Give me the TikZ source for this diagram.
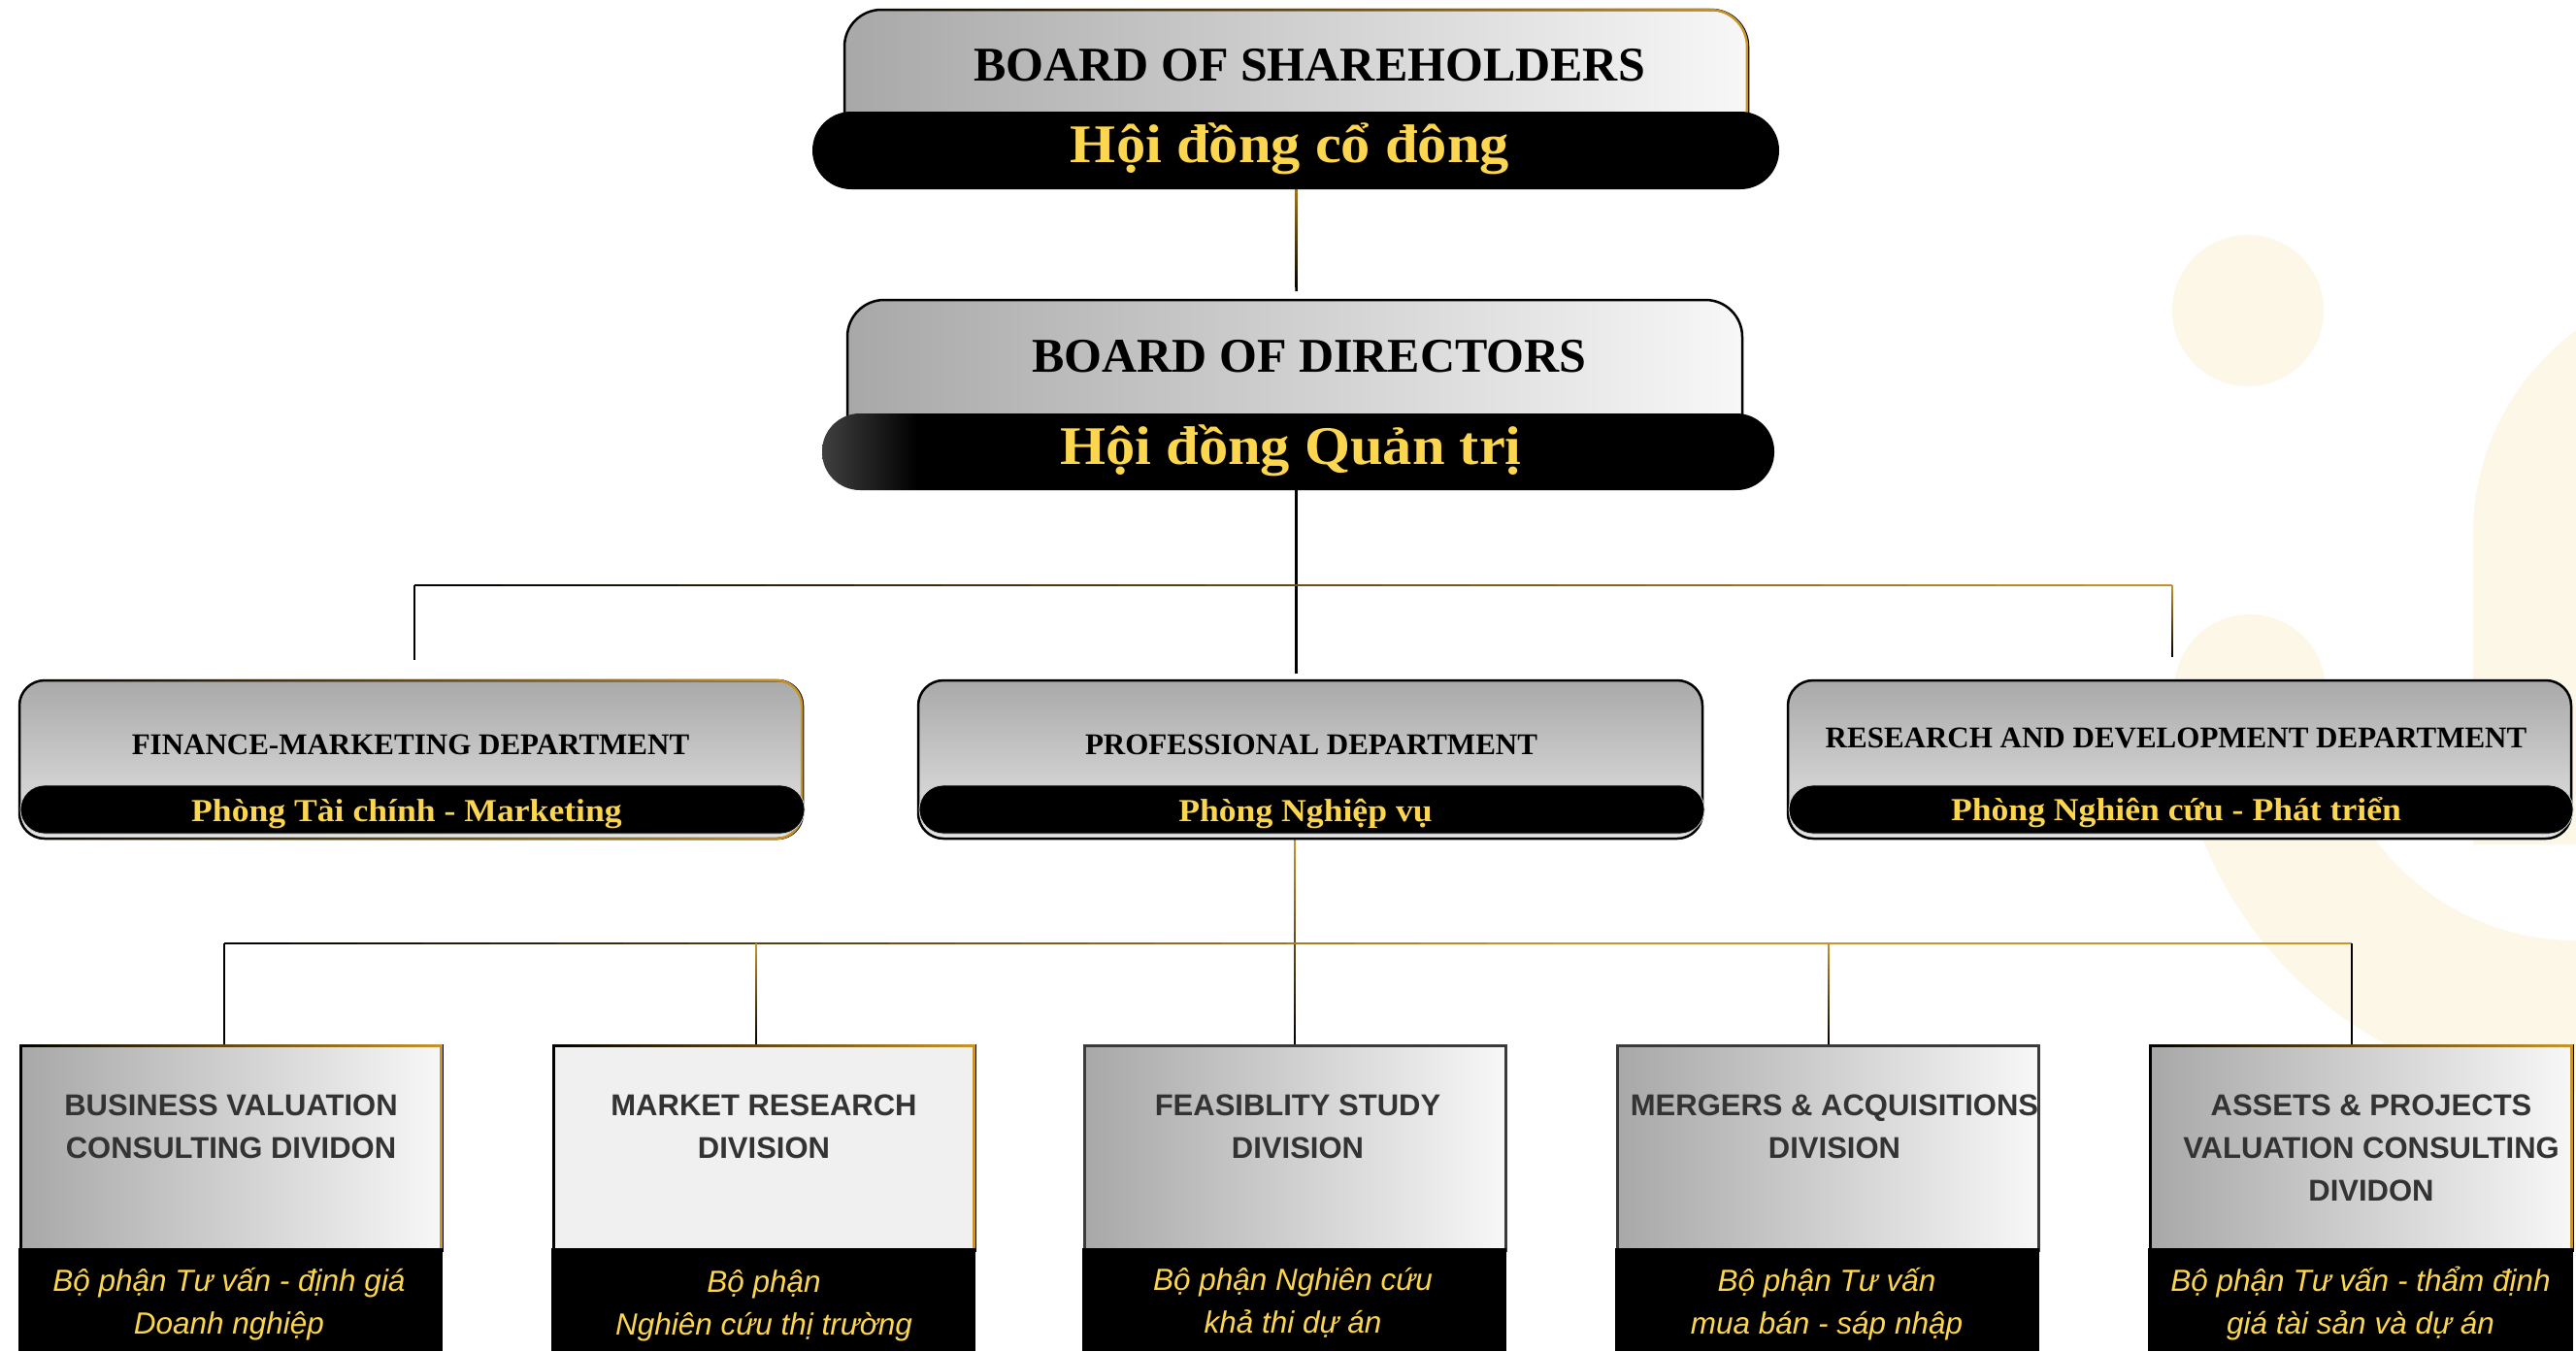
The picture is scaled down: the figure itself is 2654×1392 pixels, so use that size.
\documentclass[tikz,border=0pt]{standalone}
\usepackage{fontspec}
\setmainfont{Liberation Serif}
\newfontfamily\vnserif{Liberation Serif}[FakeStretch=1.08]
\newfontfamily\dsans{Liberation Sans}
\usetikzlibrary{calc,fadings}
\definecolor{goldc}{RGB}{201,150,43}
\definecolor{ylw}{HTML}{FDD64F}
\definecolor{dtext}{HTML}{333333}
\definecolor{gA}{HTML}{A8A8A8}
\definecolor{gB}{HTML}{A9A9A9}
\definecolor{gC}{HTML}{E6E6E6}
\definecolor{cream}{HTML}{FCF7E6}
\definecolor{bxline}{HTML}{3A3A3A}
\tikzfading[name=fadeR, left color=transparent!100, right color=transparent!0]
\pgfdeclarehorizontalshading{pillL}{100bp}{color(0bp)=(black!75); color(25bp)=(black!75); color(30bp)=(black); color(100bp)=(black)}
\newcommand\connline[4]{%
  \foreach \k in {0,...,19}{%
    \pgfmathsetmacro\ta{\k/20}%
    \pgfmathsetmacro\tb{min(1,(\k+1.2)/20)}%
    \pgfmathtruncatemacro\pc{round(100*(\k+0.5)/20)}%
    \draw[conn, color=#4!\pc!#3] ($(#1)!\ta!(#2)$) -- ($(#1)!\tb!(#2)$);
  }}
\tikzset{
  conn/.style={line width=2.5pt, line cap=butt},
  frame/.style={inner sep=0pt, outer sep=0pt, draw=none},
  ttl/.style={font=\bfseries\fontsize{50}{60}\selectfont, text=black, inner sep=0pt, anchor=base},
  ttlvn/.style={font=\vnserif\bfseries\fontsize{56}{66}\selectfont, text=ylw, inner sep=0pt, anchor=base},
  dept/.style={font=\bfseries\fontsize{31}{40}\selectfont, text=black, inner sep=0pt, anchor=base},
  deptvn/.style={font=\vnserif\bfseries\fontsize{33}{40}\selectfont, text=ylw, inner sep=0pt, anchor=base},
  divt/.style={font=\dsans\bfseries\fontsize{31}{44}\selectfont, text=dtext, align=center, inner sep=0pt, anchor=base},
  divs/.style={font=\dsans\itshape\fontsize{31.5}{44}\selectfont, text=ylw, align=center, inner sep=0pt, anchor=base},
}
\begin{document}
\begin{tikzpicture}[x=1pt,y=-1pt]
\useasboundingbox (0,0) rectangle (2654,1392);
\clip (0,0) rectangle (2654,1392);
% background
\fill[white] (0,0) rectangle (2654,1392);
\shade[left color=white, middle color=black!3, right color=white] (100,0) rectangle (460,1392);
\fill[cream] (2316,320) circle[radius=78];
\draw[cream, line width=156pt, line cap=round] (2318,711) arc[start angle=180, end angle=90, radius=336];
\fill[cream] (2548,870) -- (2548,550) arc[start angle=180, end angle=270, radius=260] -- (2700,290) -- (2700,870) -- cycle;

% frames (named nodes)
\node[frame, minimum width=995pt, minimum height=185pt] (sh) at (1335.5,102.5) {};
\node[frame, minimum width=985pt, minimum height=196pt] (bd) at (1335.5,407) {};
\node[frame, minimum width=807pt, minimum height=163pt] (fin) at (423.5,782.5) {};
\node[frame, minimum width=808pt, minimum height=163pt] (prof) at (1350,782.5) {};
\node[frame, minimum width=807pt, minimum height=163pt] (rd) at (2245.5,782.5) {};
\node[frame, minimum width=434pt, minimum height=315pt] (d1) at (238,1234.5) {};
\node[frame, minimum width=434pt, minimum height=315pt] (d2) at (787,1234.5) {};
\node[frame, minimum width=434pt, minimum height=315pt] (d3) at (1334,1234.5) {};
\node[frame, minimum width=434pt, minimum height=315pt] (d4) at (1883,1234.5) {};
\node[frame, minimum width=434pt, minimum height=315pt] (d5) at (2432.5,1234.5) {};

% connectors
\coordinate (c1) at ($(bd.north)+(0,-9)$);
\connline{sh.south}{c1}{goldc!80!black}{black}
\coordinate (c2) at ($(prof.north -| bd.south)+(0,-7)$);
\draw[conn, black] (bd.south) -- (c2);
\coordinate (bL) at (427,603);
\coordinate (bR) at (2238,603);
\connline{bL}{bR}{black}{goldc}
\coordinate (c3) at ($(bL |- fin.north)+(0,-21)$);
\draw[conn, black] (bL) -- (c3);
\coordinate (c4) at ($(bR |- rd.north)+(0,-24)$);
\connline{bR}{c4}{goldc}{black}
\coordinate (c5) at (prof.south -| d3.north);
\connline{c5}{d3.north}{goldc}{black}
\coordinate (lL) at (231,972);
\coordinate (lQ) at (1600,972);
\coordinate (lR) at (2423,972);
\connline{lL}{lQ}{black}{goldc}
\draw[conn, goldc] (lQ) -- (lR);
\draw[conn, black] (lL) -- (lL |- d1.north);
\coordinate (l2) at (779,972);
\coordinate (l4) at (1884,972);
\connline{l2}{l2 |- d2.north}{goldc}{black}
\connline{l4}{l4 |- d4.north}{goldc}{black}
\draw[conn, black] (lR) -- (lR |- d5.north);

% board of shareholders
\shade[left color=gA, right color=white!97!black] (870,130) -- (870,48) arc[start angle=180,end angle=270,radius=38] -- (1763,10) arc[start angle=270,end angle=360,radius=38] -- (1801,130) -- cycle;
\draw[black, line width=2.5pt] (870,130) -- (870,48) arc[start angle=180,end angle=270,radius=38] -- (1763,10) arc[start angle=270,end angle=360,radius=38] -- (1801,130);
\draw[goldc, line width=2.5pt, path fading=fadeR] (870,130) -- (870,48) arc[start angle=180,end angle=270,radius=38] -- (1763,10) arc[start angle=270,end angle=360,radius=38] -- (1801,130);
\fill[black, rounded corners=40pt] (837,115) rectangle (1833,195);

% board of directors
\shade[left color=gA, right color=white!97!black] (873,440) -- (873,347) arc[start angle=180,end angle=270,radius=38] -- (1757,309) arc[start angle=270,end angle=360,radius=38] -- (1795,440) -- cycle;
\draw[black, line width=2.5pt] (873,440) -- (873,347) arc[start angle=180,end angle=270,radius=38] -- (1757,309) arc[start angle=270,end angle=360,radius=38] -- (1795,440);
\shade[shading=pillL, rounded corners=39pt] (847,426) rectangle (1828,505);

% departments
\foreach \xa/\xb/\nm in {20/827/fin, 946/1754/prof, 1842/2649/rd}{
  \shade[top color=gB, bottom color=gC, rounded corners=26pt] (\xa,701) rectangle (\xb,864);
  \draw[black, line width=2.5pt, rounded corners=26pt] (\xa,701) rectangle (\xb,864);
}
\draw[goldc, line width=2.5pt, rounded corners=26pt, path fading=fadeR] (20,701) rectangle (827,864);
\foreach \xa/\xb in {20/827, 946/1754, 1842/2649}{
  \fill[black, rounded corners=25pt] (\xa+1,809) rectangle (\xb+2,859);
  \draw[white!80!black, line width=0.8pt, rounded corners=25pt] (\xa+1,809) rectangle (\xb+2,859);
}

% divisions
\foreach \xa/\xb in {21/455, 1117/1551, 1666/2100, 2215/2650}{
  \shade[left color=gA, right color=white!97!black] (\xa,1077) rectangle (\xb,1290);
}
\fill[black!6] (570,1077) rectangle (1004,1290);
\foreach \xa/\xb in {21/455, 570/1004, 2215/2650}{
  \draw[black, line width=3pt] (\xa,1290) -- (\xa,1077) -- (\xb,1077) -- (\xb,1290);
  \draw[goldc, line width=3pt, path fading=fadeR] (\xa,1290) -- (\xa,1077) -- (\xb,1077) -- (\xb,1290);
}
\foreach \xa/\xb in {1117/1551, 1666/2100}{
  \draw[bxline, line width=3pt] (\xa,1290) -- (\xa,1077) -- (\xb,1077) -- (\xb,1290);
}
\foreach \xa/\xb in {21/455, 570/1004, 1117/1551, 1666/2100, 2215/2650}{
  \fill[black] (\xa-2,1286) rectangle (\xb+1,1392);
}

% texts
\node[ttl] (shT) at (1349,83) {BOARD OF SHAREHOLDERS};
\node[ttlvn] (shS) at (1329,167) {Hội đồng cổ đông};
\node[ttl] (bdT) at (1349,383) {BOARD OF DIRECTORS};
\node[ttlvn] (bdS) at (1330,478) {Hội đồng Quản trị};
\node[dept] (finT) at (423,777) {FINANCE-MARKETING DEPARTMENT};
\node[deptvn] (finS) at (419,846) {Phòng Tài chính - Marketing};
\node[dept] (profT) at (1351,777) {PROFESSIONAL DEPARTMENT};
\node[deptvn] (profS) at (1345,846) {Phòng Nghiệp vụ};
\node[dept] (rdT) at (2242,770) {RESEARCH AND DEVELOPMENT DEPARTMENT};
\node[deptvn] (rdS) at (2242,845) {Phòng Nghiên cứu - Phát triển};

\node[divt] (d1T) at (238,1193) {BUSINESS VALUATION\\CONSULTING DIVIDON};
\node[divt] (d2T) at (787,1193) {MARKET RESEARCH\\DIVISION};
\node[divt] (d3T) at (1337,1193) {FEASIBLITY STUDY\\DIVISION};
\node[divt] (d4T) at (1890,1193) {MERGERS \& ACQUISITIONS\\DIVISION};
\node[divt] (d5T) at (2443,1237) {ASSETS \& PROJECTS\\VALUATION CONSULTING\\DIVIDON};

\node[divs] (d1S) at (236,1374) {Bộ phận Tư vấn - định giá\\Doanh nghiệp};
\node[divs] (d2S) at (787,1375) {Bộ phận\\Nghiên cứu thị trường};
\node[divs] (d3S) at (1332,1373) {Bộ phận Nghiên cứu\\khả thi dự án};
\node[divs] (d4S) at (1882,1374) {Bộ phận Tư vấn\\mua bán - sáp nhập};
\node[divs] (d5S) at (2432,1374) {Bộ phận Tư vấn - thẩm định\\giá tài sản và dự án};
\end{tikzpicture}
\end{document}
